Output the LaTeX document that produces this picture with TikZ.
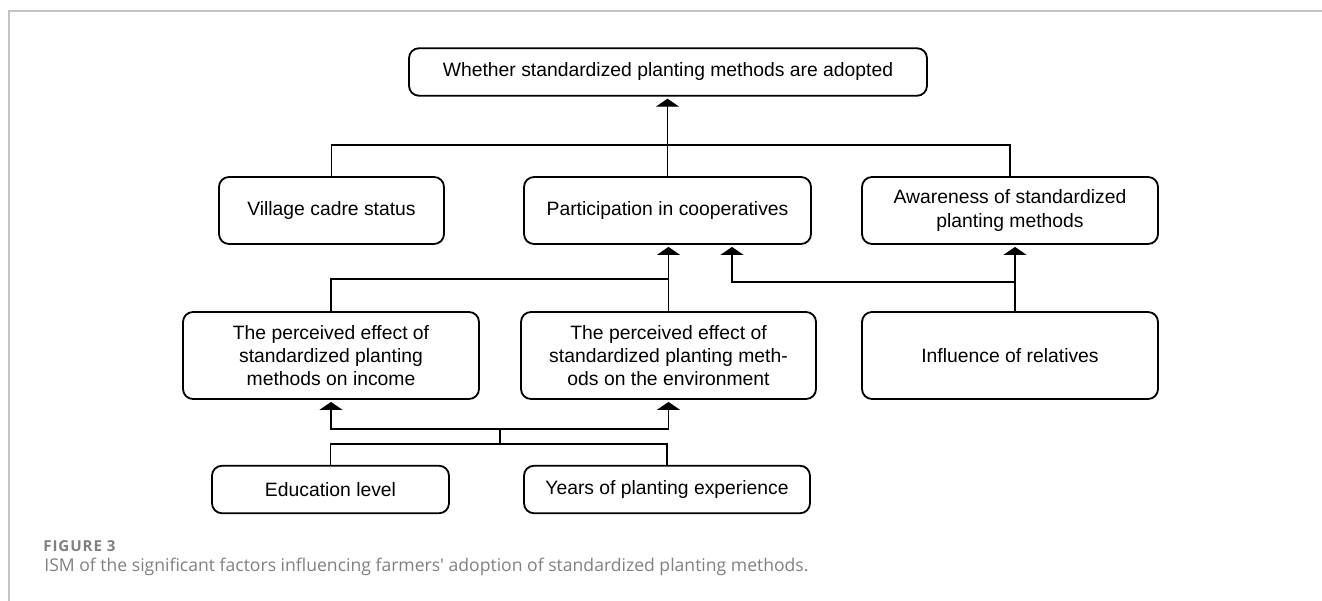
\documentclass[tikz,border=0pt]{standalone}
\usepackage{fontspec}
\setmainfont{Liberation Sans}
\newfontfamily\capfont{Open Sans}
\newfontfamily\figfont[LetterSpace=6]{Open Sans}
\usepackage{xcolor}
\usepackage{tikz}
\usetikzlibrary{shapes.geometric, arrows.meta, positioning, calc}

\definecolor{framegray}{HTML}{C4C4C4}
\definecolor{capgray}{HTML}{808080}

\begin{document}
\begin{tikzpicture}[
    % Node styles
    factorbox/.style={rectangle, rounded corners=0.2cm, draw=black, line width=1.05pt, fill=white, minimum height=1.34cm, align=center, inner sep=0pt, font=\fontsize{11}{13.2}\selectfont},
    tallbox/.style={factorbox, minimum height=1.74cm},
    flatbox/.style={factorbox, minimum height=0.95cm},
    conn/.style={line width=0.75pt, black},
    myarrow/.style={conn, -{Triangle[width=0.46cm, length=0.16cm]}, shorten >=0.04cm}
]
\useasboundingbox (0,0) rectangle (26.44,-12.02);

% Frame lines
\draw[framegray, line width=0.6pt] (0.18,-12.02) -- (0.18,-0.22) -- (26.44,-0.22);

% === TOP LEVEL ===
\node[flatbox, minimum width=10.36cm] (adopt) at (13.36, -1.44) {Whether standardized planting methods are adopted};

% === SECOND LEVEL ===
\node[factorbox, minimum width=4.5cm] (cadre) at (6.63, -4.21) {Village cadre status};
\node[factorbox, minimum width=5.74cm] (coop) at (13.35, -4.21) {Participation in cooperatives};
\node[factorbox, minimum width=5.92cm] (aware) at (20.2, -4.21) {Awareness of standardized\\planting methods};

\coordinate (bus1) at (13.35, -2.9);
\draw[conn] (cadre.north) |- (bus1) -| (aware.north);
\draw[myarrow] (coop.north) -- (coop.north |- adopt.south);

% === THIRD LEVEL ===
\node[tallbox, minimum width=5.92cm] (income) at (6.62, -7.11) {The perceived effect of\\standardized planting\\methods on income};
\node[tallbox, minimum width=5.9cm] (envir) at (13.37, -7.11) {The perceived effect of\\standardized planting meth-\\ods on the environment};
\node[tallbox, minimum width=5.92cm] (relat) at (20.2, -7.11) {Influence of relatives};

\coordinate (bus2) at (13.37, -5.58);
\coordinate (bus3) at (20.3, -5.64);
\draw[conn] (income.north) |- (bus2);
\draw[myarrow] (envir.north) -- (envir.north |- coop.south);
\draw[myarrow] ($(relat.north)+(0.1,0)$) -- ($(aware.south)+(0.1,0)$);
\draw[myarrow] (bus3) -| ($(coop.south)+(1.29,0)$);

% === BOTTOM LEVEL ===
\node[flatbox, minimum width=4.74cm] (educ) at (6.61, -9.79) {Education level};
\node[flatbox, minimum width=5.72cm] (years) at (13.34, -9.79) {Years of planting experience};

\coordinate (mid1) at (10.0, -8.58);
\coordinate (mid2) at (10.0, -8.88);
\draw[myarrow] (mid1) -| (income.south);
\draw[myarrow] (mid1) -| (envir.south);
\draw[conn] (mid1) -- (mid2);
\draw[conn] (educ.north) |- (mid2) -| (years.north);

% Caption
\node[anchor=base west, inner sep=0pt, text=capgray, font=\figfont\bfseries\fontsize{8.6}{10}\selectfont] (figlab) at (0.86, -11.02) {FIGURE 3};
\node[anchor=base west, inner sep=0pt, text=capgray, font=\capfont\fontsize{10}{12}\selectfont] (figcap) at (0.88, -11.42) {ISM of the significant factors influencing farmers' adoption of standardized planting methods.};

\end{tikzpicture}
\end{document}
